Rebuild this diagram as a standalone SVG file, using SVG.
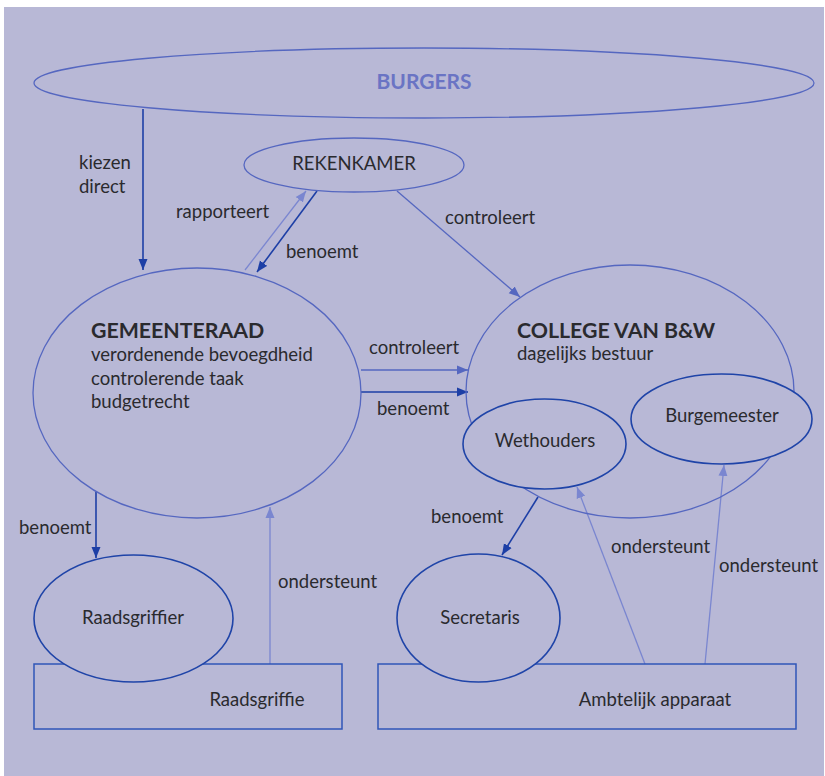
<svg xmlns="http://www.w3.org/2000/svg" width="825" height="776" viewBox="0 0 825 776">
<style>
  .t{font-family:Lato,"Open Sans","Liberation Sans",sans-serif;fill:#2a2a2e;font-size:18.5px}
  .c{text-anchor:middle}
  .b{font-weight:bold;font-size:21.3px}
  .big{fill:none;stroke:#5567c0;stroke-width:1.3}
  .sm{fill:#b8b8d6;stroke:#1f44a8;stroke-width:1.6}
  .rc{fill:none;stroke:#2f55b8;stroke-width:1.5}
  .dk{stroke:#1d3fa6;stroke-width:1.6;fill:none;marker-end:url(#ad)}
  .md{stroke:#5567c0;stroke-width:1.3;fill:none;marker-end:url(#am)}
  .lt{stroke:#7a86d0;stroke-width:1.3;fill:none;marker-end:url(#al)}
</style>
<defs>
  <marker id="ad" markerUnits="userSpaceOnUse" markerWidth="12" markerHeight="10" refX="11" refY="5" orient="auto"><path d="M0,0.5 L11,5 L0,9.5 z" fill="#1d3fa6"/></marker>
  <marker id="am" markerUnits="userSpaceOnUse" markerWidth="12" markerHeight="10" refX="11" refY="5" orient="auto"><path d="M0,0.5 L11,5 L0,9.5 z" fill="#5567c0"/></marker>
  <marker id="al" markerUnits="userSpaceOnUse" markerWidth="12" markerHeight="10" refX="11" refY="5" orient="auto"><path d="M0,0.5 L11,5 L0,9.5 z" fill="#7a86d0"/></marker>
</defs>
<rect x="0" y="0" width="825" height="776" fill="#ffffff"/>
<rect x="4" y="7" width="820" height="769" fill="#b8b8d6"/>

<g id="connectors">
  <line class="dk" x1="143" y1="109" x2="143" y2="270"/>
  <line class="lt" x1="245" y1="270" x2="306" y2="191"/>
  <line class="dk" x1="317" y1="191" x2="257" y2="272"/>
  <line class="md" x1="397" y1="191" x2="520" y2="297"/>
  <line class="md" x1="361" y1="370" x2="468" y2="370"/>
  <line class="dk" x1="361" y1="392" x2="468" y2="392"/>
  <line class="dk" x1="96" y1="492" x2="96" y2="558"/>
  <line class="lt" x1="270" y1="664" x2="270" y2="507"/>
  <line class="dk" x1="538" y1="497" x2="502" y2="555"/>
  <line class="lt" x1="645" y1="664" x2="577" y2="487"/>
  <line class="lt" x1="705" y1="664" x2="724" y2="465"/>
  <text class="t" x="79" y="169">kiezen</text>
  <text class="t" x="79" y="193">direct</text>
  <text class="t" x="176" y="218">rapporteert</text>
  <text class="t" x="286" y="258">benoemt</text>
  <text class="t" x="445" y="224">controleert</text>
  <text class="t" x="369" y="354">controleert</text>
  <text class="t" x="377" y="415">benoemt</text>
  <text class="t" x="19" y="534">benoemt</text>
  <text class="t" x="278" y="588">ondersteunt</text>
  <text class="t" x="431" y="523">benoemt</text>
  <text class="t" x="611" y="553">ondersteunt</text>
  <text class="t" x="719" y="572">ondersteunt</text>
</g>

<g id="burgers">
  <ellipse class="big" cx="424" cy="83" rx="390" ry="35"/>
  <text class="t c" x="424" y="89" style="font-size:21px;font-weight:bold;fill:#6a74c4">BURGERS</text>
</g>
<g id="rekenkamer">
  <ellipse class="big" cx="354" cy="165" rx="110" ry="27"/>
  <text class="t c" x="354" y="170">REKENKAMER</text>
</g>
<g id="gemeenteraad">
  <ellipse class="big" cx="197" cy="393" rx="164" ry="125"/>
  <text class="t b" x="91" y="338">GEMEENTERAAD</text>
  <text class="t" x="91" y="361">verordenende bevoegdheid</text>
  <text class="t" x="91" y="385">controlerende taak</text>
  <text class="t" x="91" y="408">budgetrecht</text>
</g>
<g id="college">
  <ellipse class="big" cx="630" cy="391.5" rx="164" ry="126.5"/>
  <text class="t b" x="517" y="338">COLLEGE VAN B&amp;W</text>
  <text class="t" x="517" y="360">dagelijks bestuur</text>
</g>
<g id="wethouders">
  <ellipse class="sm" cx="544.5" cy="444" rx="81.5" ry="45"/>
  <text class="t c" x="545" y="447">Wethouders</text>
</g>
<g id="burgemeester">
  <ellipse class="sm" cx="721.5" cy="419" rx="90.5" ry="45"/>
  <text class="t c" x="722" y="422">Burgemeester</text>
</g>
<g id="raadsgriffie">
  <rect class="rc" x="34" y="664" width="308" height="65"/>
  <text class="t c" x="257" y="706">Raadsgriffie</text>
</g>
<g id="raadsgriffier">
  <ellipse class="sm" cx="133.5" cy="618.5" rx="99.5" ry="63.5"/>
  <text class="t c" x="133" y="624">Raadsgriffier</text>
</g>
<g id="ambtelijk">
  <rect class="rc" x="378" y="664" width="418" height="65"/>
  <text class="t c" x="655" y="706">Ambtelijk apparaat</text>
</g>
<g id="secretaris">
  <ellipse class="sm" cx="478.5" cy="618" rx="81.5" ry="64"/>
  <text class="t c" x="480" y="624">Secretaris</text>
</g>
</svg>
